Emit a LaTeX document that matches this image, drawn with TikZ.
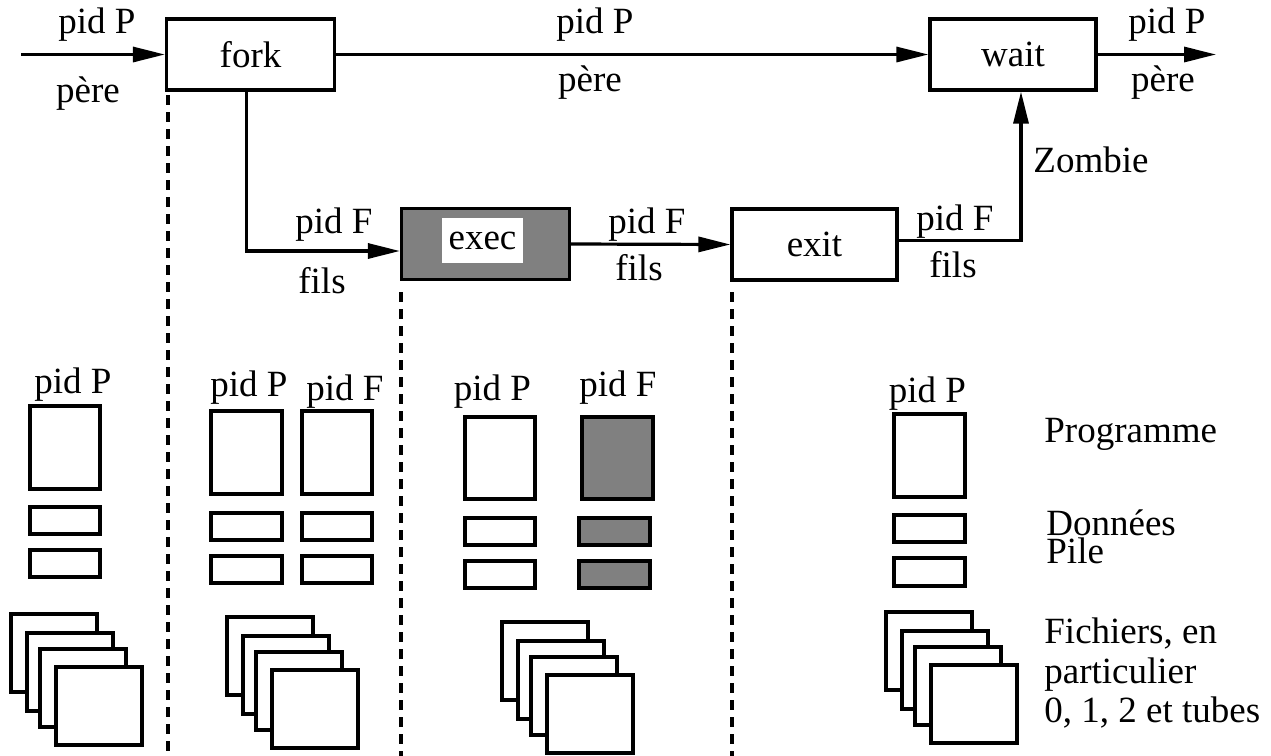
\documentclass[tikz,border=0pt]{standalone}
\usepackage{fontspec}
\setmainfont{Liberation Serif}
\newfontfamily\tnrfont{Liberation Serif}
\usetikzlibrary{arrows.meta}
\newcommand{\fstack}[2]{%
  \foreach \dx/\dy in {0/0,16/19,29/35,45/53}{%
    \draw[mem] ({#1+\dx},{#2+\dy}) rectangle ++(86,78);}}
\begin{document}
\begin{tikzpicture}[x=0.5pt,y=-0.5pt,
  every node/.style={font=\tnrfont\fontsize{18.5}{20}\selectfont, inner sep=0pt},
  proc/.style={draw, line width=1.6pt, minimum width=84pt, minimum height=35.5pt},
  arr/.style={-{Triangle[length=16pt,width=7.5pt]}, line width=1.6pt},
  sep/.style={line width=1.7pt, dash pattern=on 5pt off 3.5pt},
  mem/.style={draw, line width=1.6pt, fill=white},
  memg/.style={draw, line width=2pt, fill=gray},
  lab/.style={anchor=base},
  labw/.style={anchor=base west}]
\useasboundingbox (0,0) rectangle (1271,756);

% process boxes
\node[proc] (fork) at (250.5,54.5) {fork};
\node[proc, minimum width=83pt] (wait) at (1013,54.5) {wait};
\node[proc, fill=gray] (exec) at (485.5,244) {};
\node[fill=white, minimum width=40.5pt, minimum height=22.5pt] (execlab) at (482.5,240.5) {exec};
\node[proc, minimum width=82.5pt] (exit) at (814.5,244.5) {exit};

\coordinate (in) at (21,54.5);
\coordinate (out) at (1216,54.5);

% connectors
\draw[arr] (in) -- (fork.west);
\draw[arr] (fork.east) -- (wait.west);
\draw[arr] (wait.east) -- (out);
\draw[arr] ([xshift=-2pt]fork.south) |- ([yshift=-3.5pt]exec.west);
\draw[arr] (exec.east) -- (exit.west);
\draw[arr] ([yshift=2pt]exit.east) -| ([xshift=4pt]wait.south);

% connector labels
\node[lab] (l1) at (97,33) {pid P};
\node[lab] (l2) at (88,102) {père};
\node[lab] (l3) at (595,33) {pid P};
\node[lab] (l4) at (590,91) {père};
\node[lab] (l5) at (1167,33) {pid P};
\node[lab] (l6) at (1163,91) {père};
\node[lab] (l7) at (334,233) {pid F};
\node[lab] (l8) at (322,293) {fils};
\node[lab] (l9) at (647,233) {pid F};
\node[lab] (l10) at (639,280) {fils};
\node[lab] (l11) at (955,230) {pid F};
\node[lab] (l12) at (953,277) {fils};
\node[labw] (l13) at (1033,172) {Zombie};

% separators
\draw[sep] (168,95) -- (168,756);
\draw[sep] (401,292) -- (401,756);
\draw[sep] (732,292) -- (732,756);

% column 1
\node[lab] (c1p) at (73,393) {pid P};
\draw[mem] (30,406) rectangle (100,489);
\draw[mem] (30,507) rectangle (100,534);
\draw[mem] (30,550) rectangle (100,577);
\fstack{11}{614}

% column 2
\node[lab] (c2p) at (249,396) {pid P};
\node[lab] (c2f) at (345,400) {pid F};
\draw[mem] (211,411) rectangle (282,494);
\draw[mem] (302,411) rectangle (372,494);
\draw[mem] (211,513) rectangle (282,540);
\draw[mem] (302,513) rectangle (372,540);
\draw[mem] (211,556) rectangle (282,583);
\draw[mem] (302,556) rectangle (372,583);
\fstack{227}{617}

% column 3
\node[lab] (c3p) at (492.5,400) {pid P};
\node[lab] (c3f) at (618,396) {pid F};
\draw[mem] (465,417) rectangle (535,499);
\draw[memg] (582,417) rectangle (653,499);
\draw[mem] (465,518) rectangle (535,545);
\draw[memg] (579,518) rectangle (650,545);
\draw[mem] (465,561) rectangle (535,588);
\draw[memg] (579,561) rectangle (650,588);
\fstack{502}{622}

% column 4
\node[lab] (c4p) at (927.5,402) {pid P};
\draw[mem] (894,414) rectangle (965,497);
\draw[mem] (894,515) rectangle (965,542);
\draw[mem] (894,558) rectangle (965,586);
\fstack{886}{612}

% legend
\node[labw] (prog) at (1044,442) {Programme};
\node[labw] (don) at (1046,535) {Données};
\node[labw] (pile) at (1046,563) {Pile};
\node[labw] (fic1) at (1044,643) {Fichiers, en};
\node[labw] (fic2) at (1044,683) {particulier};
\node[labw] (fic3) at (1044,722) {0, 1, 2 et tubes};
\end{tikzpicture}
\end{document}
